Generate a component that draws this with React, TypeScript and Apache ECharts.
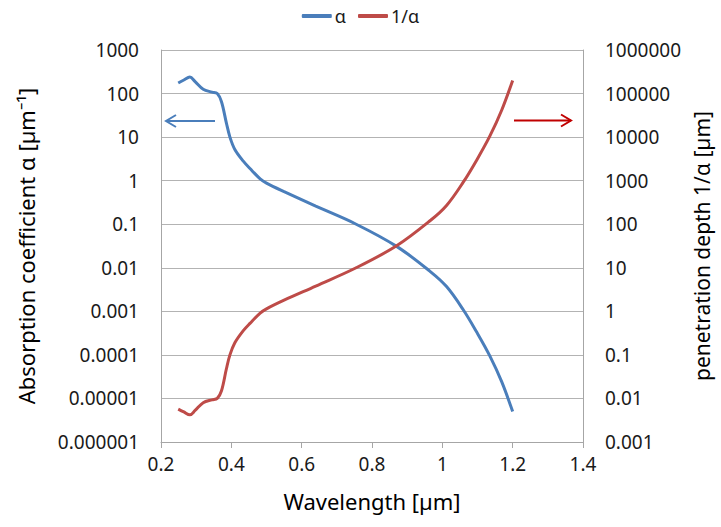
import React, { useEffect, useRef } from "react";
import * as echarts from "echarts";

const wavelength = [0.249, 0.265, 0.282, 0.297, 0.32, 0.345, 0.36, 0.372, 0.386, 0.396, 0.41, 0.434, 0.453, 0.482, 0.5, 0.55, 0.64, 0.755, 0.87, 0.965, 1.012, 1.059, 1.098, 1.135, 1.169, 1.2];
const alphaValues = [175, 205, 240, 187, 125, 108, 100, 65, 21, 10, 5.2, 2.8, 1.9, 1.1, 0.88, 0.56, 0.26, 0.1, 0.031, 0.0083, 0.0037, 0.0011, 0.00033, 0.000095, 0.000024, 0.000005];
const depthValues = [0.0057, 0.0049, 0.0042, 0.0053, 0.008, 0.0093, 0.01, 0.015, 0.048, 0.1, 0.19, 0.36, 0.53, 0.91, 1.14, 1.8, 3.8, 10, 32, 120, 270, 910, 3000, 10500, 42000, 200000];

const leftTickLabels: Record<number, string> = {
  [-6]: "0.000001", [-5]: "0.00001", [-4]: "0.0001", [-3]: "0.001", [-2]: "0.01",
  [-1]: "0.1", 0: "1", 1: "10", 2: "100", 3: "1000",
};
const rightTickLabels: Record<number, string> = {
  [-3]: "0.001", [-2]: "0.01", [-1]: "0.1", 0: "1", 1: "10", 2: "100", 3: "1000",
  4: "10000", 5: "100000", 6: "1000000",
};

const BLUE = "#4a7ebb";
const RED = "#be4b48";
const FONT = "Noto Sans";

export default function App() {
  const ref = useRef<HTMLDivElement>(null);
  useEffect(() => {
    if (!ref.current) return;
    const chart = echarts.init(ref.current, null, { renderer: "svg" });
    const gridColor = "#b3b3b3";
    chart.setOption({
      animation: false,
      textStyle: { fontFamily: FONT },
      legend: {
        top: 2,
        left: "center",
        itemWidth: 30,
        itemHeight: 4,
        itemGap: 12,
        icon: "roundRect",
        textStyle: { fontSize: 18, color: "#1a1a1a", fontFamily: FONT, padding: [0, 0, 0, -2] },
        data: ["α", "1/α"],
      },
      grid: { left: 161, right: 138, top: 50, bottom: 85, outerBoundsMode: "none", containLabel: false },
      xAxis: {
        type: "value",
        min: 0.2,
        max: 1.4,
        interval: 0.2,
        name: "Wavelength [µm]",
        nameLocation: "middle",
        nameGap: 48,
        nameTextStyle: { fontSize: 22, color: "#000", fontFamily: FONT },
        axisLine: { show: true, lineStyle: { color: "#a6a6a6" } },
        axisTick: { show: true, length: 6, lineStyle: { color: "#a6a6a6" } },
        axisLabel: { fontSize: 19, color: "#1a1a1a", margin: 12, fontFamily: FONT },
        splitLine: { show: false },
      },
      yAxis: [
        {
          type: "log",
          logBase: 10,
          min: 0.000001,
          max: 1000,
          interval: 1,
          name: "Absorption coefficient α [µm⁻¹]",
          nameLocation: "middle",
          nameGap: 124,
          nameTextStyle: { fontSize: 22, color: "#000", fontFamily: FONT },
          axisLine: { show: true, lineStyle: { color: "#a6a6a6" } },
          axisTick: { show: false },
          axisLabel: {
            fontSize: 19,
            color: "#1a1a1a",
            margin: 22,
            fontFamily: FONT,
            formatter: (v: number) => leftTickLabels[Math.round(Math.log10(v))] ?? "",
          },
          splitLine: { show: true, lineStyle: { color: gridColor, width: 1 } },
        },
        {
          type: "log",
          logBase: 10,
          min: 0.001,
          max: 1000000,
          interval: 1,
          position: "right",
          name: "penetration depth 1/α [µm]",
          nameLocation: "middle",
          nameGap: 107,
          nameTextStyle: { fontSize: 21, color: "#000", fontFamily: FONT },
          axisLine: { show: true, lineStyle: { color: "#a6a6a6" } },
          axisTick: { show: false },
          axisLabel: {
            fontSize: 19,
            color: "#1a1a1a",
            margin: 22,
            fontFamily: FONT,
            formatter: (v: number) => rightTickLabels[Math.round(Math.log10(v))] ?? "",
          },
          splitLine: { show: false },
        },
      ],
      series: [
        {
          name: "α",
          type: "line",
          yAxisIndex: 0,
          data: wavelength.map((x, i) => [x, alphaValues[i]]),
          smooth: 0.35,
          showSymbol: false,
          symbol: "none",
          lineStyle: { color: BLUE, width: 3 },
          itemStyle: { color: BLUE },
        },
        {
          name: "1/α",
          type: "line",
          yAxisIndex: 1,
          data: wavelength.map((x, i) => [x, depthValues[i]]),
          smooth: 0.35,
          showSymbol: false,
          symbol: "none",
          lineStyle: { color: RED, width: 3 },
          itemStyle: { color: RED },
        },
      ],
      graphic: [
        { type: "line", shape: { x1: 215, y1: 121, x2: 166, y2: 121 }, style: { stroke: BLUE, lineWidth: 2 } },
        { type: "polyline", shape: { points: [[176, 115], [166, 121], [176, 127]] }, style: { stroke: BLUE, lineWidth: 2, fill: null } },
        { type: "line", shape: { x1: 514, y1: 120.5, x2: 571, y2: 120.5 }, style: { stroke: "#c00000", lineWidth: 2 } },
        { type: "polyline", shape: { points: [[561, 114.5], [571, 120.5], [561, 126.5]] }, style: { stroke: "#c00000", lineWidth: 2, fill: null } },
      ],
    });
    return () => chart.dispose();
  }, []);
  return <div ref={ref} style={{ width: 721, height: 527, position: "absolute", left: 0, top: 0 }} />;
}
